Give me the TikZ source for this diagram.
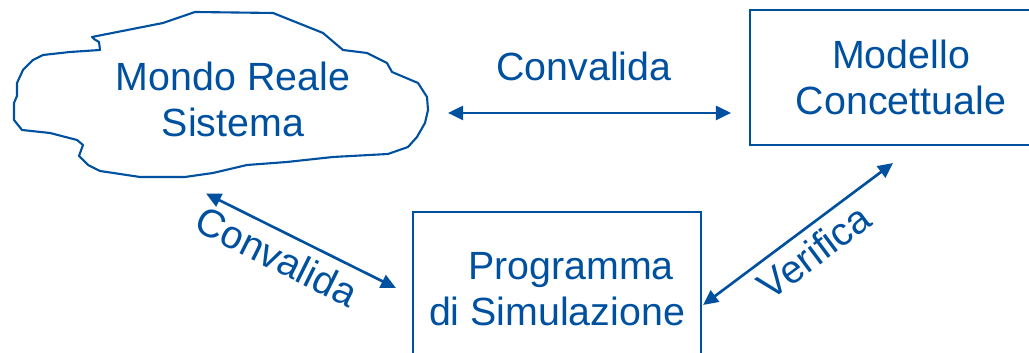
\documentclass[tikz,border=0pt]{standalone}
\usepackage{fontspec}
\setmainfont{Liberation Sans}
\usetikzlibrary{arrows.meta,calc}
\definecolor{simblue}{RGB}{0,80,160}

\begin{document}
\begin{tikzpicture}[x=0.1mm, y=-0.1mm, simblue, line width=0.6pt,
    font=\fontsize{11.2}{13.2}\selectfont,
    box/.style={draw, rectangle, align=center, inner sep=0pt},
    link/.style={line width=0.75pt, >={Triangle[length=1.5mm, width=1.4mm]}, <->},
    lbl/.style={inner sep=0pt}]
    \useasboundingbox (0,0) rectangle (1029,353);
    \clip (0,0) rectangle (1029,353);

    \draw[line join=round] (92,37) -- (163,23) -- (195,12) -- (273,13) -- (323,33) -- (343,50)
        -- (367,53) -- (387,63) -- (392,72) -- (418,83) -- (427,97) -- (428,110) -- (425,123)
        -- (417,137) -- (408,147) -- (388,154) -- (333,157) -- (287,162) -- (247,165) -- (213,173)
        -- (185,177) -- (140,177) -- (100,171) -- (88,165) -- (79,156) -- (83,145) -- (77,140)
        -- (50,133) -- (22,130) -- (14,120) -- (14,103) -- (17,96) -- (17,83) -- (23,70) -- (33,60)
        -- (43,55) -- (70,52) -- (100,50) -- (99,42) -- (94,39) -- cycle;
    \node[align=center, inner sep=0pt, minimum width=39.4mm, minimum height=15.6mm] (reale) at (233,99.5) {Mondo Reale\\Sistema};

    \node[box, minimum width=30.2mm, minimum height=13.5mm] (modello) at (901,77.5) {Modello\\Concettuale};
    \node[box, minimum width=28.8mm, minimum height=15.4mm] (programma) at (557,289) {\hspace*{2.8mm}Programma\\di Simulazione};

    \draw[link] ($(reale.east |- 0,113)+(17,0)$) -- node[lbl, pos=0.48, above=3.1mm] {Convalida} ($(modello.west |- 0,113)+(-18,0)$);
    \draw[link] ($(reale.south)+(-27,15)$) -- node[lbl, sloped, pos=0.43, below=0.9mm] {Convalida} ($(programma.west |- 0,288)+(-16,0)$);
    \draw[link] ($(programma.east |- 0,305)+(1,0)$) -- node[lbl, sloped, pos=0.51, below=0.8mm] {Verifica} ($(modello.south)+(-8,17)$);
\end{tikzpicture}
\end{document}
